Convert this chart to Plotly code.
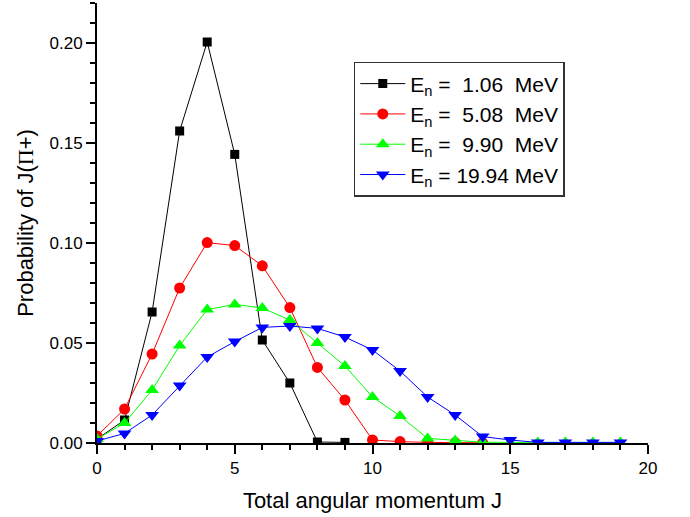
import plotly.graph_objects as go

# Total angular momentum J and spin-distribution probabilities per neutron energy
j_black = list(range(0, 10))
p_106 = [0.002, 0.0115, 0.0655, 0.156, 0.2005, 0.1443, 0.0515, 0.030, 0.0005, 0.0003]

j_red = list(range(0, 15))
p_508 = [0.0035, 0.017, 0.0445, 0.0775, 0.1002, 0.0987, 0.0886, 0.0677, 0.0378, 0.0215,
         0.0015, 0.0007, 0.0003, 0.0002, 0.0001]

j_green = list(range(0, 20))
p_990 = [0.002, 0.010, 0.0265, 0.0487, 0.0667, 0.0693, 0.0675, 0.0615, 0.050, 0.0385,
         0.023, 0.0135, 0.0023, 0.0012, 0.0004, 0.0003, 0.0003, 0.0003, 0.0003, 0.0003]

j_blue = list(range(0, 20))
p_1994 = [0.001, 0.0048, 0.014, 0.0287, 0.043, 0.0507, 0.0578, 0.0585, 0.0573, 0.053,
          0.0465, 0.036, 0.023, 0.014, 0.0032, 0.0015, 0.0003, 0.0003, 0.0003, 0.0003]

series = [
    (j_black, p_106, "E<sub>n</sub> =  1.06  MeV", "#000000", "square", 9),
    (j_red, p_508, "E<sub>n</sub> =  5.08  MeV", "#ff0000", "circle", 11),
    (j_green, p_990, "E<sub>n</sub> =  9.90  MeV", "#00ff00", "triangle-up", 12),
    (j_blue, p_1994, "E<sub>n</sub> = 19.94 MeV", "#0000ff", "triangle-down", 12),
]

fig = go.Figure()
for x, y, name, color, symbol, size in series:
    fig.add_trace(go.Scatter(
        x=x, y=y, name=name, mode="lines+markers",
        line=dict(color=color, width=1),
        marker=dict(symbol=symbol, size=size, color=color, line=dict(width=0)),
    ))

axis_common = dict(
    showline=True, linecolor="black", linewidth=2,
    ticks="outside", ticklen=9, tickwidth=2, tickcolor="black",
    showgrid=False, zeroline=False, mirror=False,
    tickfont=dict(family="Liberation Sans, Arial", size=17, color="black"),
)

fig.update_xaxes(
    range=[0, 20], tick0=0, dtick=5,
    minor=dict(ticks="outside", ticklen=5, tickwidth=1.5, tickcolor="black", dtick=1),
    title=dict(text="Total angular momentum J",
               font=dict(family="Liberation Sans, Arial", size=22, color="black"),
               standoff=15),
    **axis_common,
)
fig.update_yaxes(
    range=[0, 0.22], tick0=0, dtick=0.05, tickformat=".2f",
    minor=dict(ticks="outside", ticklen=5, tickwidth=1.5, tickcolor="black", dtick=0.01),
    title=dict(text="Probability of J(<span style='font-family:Liberation Serif'>Π</span>+)",
               font=dict(family="Liberation Sans, Arial", size=22, color="black"),
               standoff=10),
    **axis_common,
)

fig.update_layout(
    width=690, height=517,
    margin=dict(l=97, r=42, t=3, b=74),
    paper_bgcolor="white", plot_bgcolor="white",
    showlegend=True,
    legend=dict(
        x=0.466, y=0.866, xanchor="left", yanchor="top",
        bordercolor="#333333", borderwidth=1.5, bgcolor="white",
        font=dict(family="Liberation Sans, Arial", size=21, color="black"),
        itemwidth=45, tracegroupgap=0,
    ),
)

fig.write_html("out.html")
